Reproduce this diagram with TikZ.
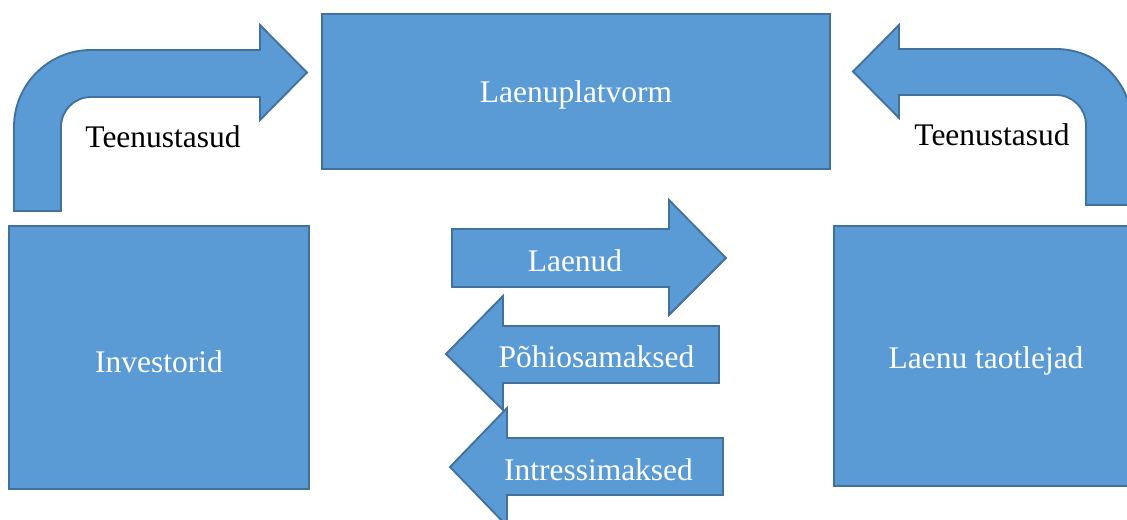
\documentclass[tikz,border=0pt]{standalone}
\usepackage{fontspec}
\setmainfont{Liberation Serif}
\definecolor{boxfill}{HTML}{5B9BD5}
\definecolor{boxline}{HTML}{41719C}
\tikzset{
  shapefill/.style={fill=boxfill, draw=boxline, line width=1.4pt, line join=miter},
  box/.style={shapefill, rectangle, inner sep=0pt},
  wlabel/.style={text=white, font=\fontsize{23.6}{28}\selectfont, inner sep=0pt, anchor=base},
  blabel/.style={text=black, font=\fontsize{23.6}{28}\selectfont, inner sep=0pt, anchor=base}
}
\begin{document}
\begin{tikzpicture}[x=0.75pt,y=-0.75pt]
\useasboundingbox (0,0) rectangle (1127,520);
\clip (0,0) rectangle (1127,520);

% boxes
\node[box, minimum width=381pt, minimum height=116.25pt] (plat) at (576,91.5) {};
\node[box, minimum width=225pt, minimum height=197.25pt] (inv) at (159,357.5) {};
\node[box, minimum width=228pt, minimum height=195pt] (taot) at (986,356) {};

% left bent arrow
\draw[shapefill] (14,211) -- (14,127)
  .. controls (14,84.5) and (48.5,50) .. (91,50)
  -- (260,50) -- (260,25) -- (307,72.5) -- (260,120) -- (260,97) -- (91,97)
  .. controls (74.4,97) and (61,110.4) .. (61,127)
  -- (61,211) -- cycle;

% right bent arrow
\draw[shapefill] (1132,205) -- (1132,125)
  .. controls (1132,83) and (1098,49) .. (1056,49)
  -- (899,49) -- (899,25) -- (853,71.5) -- (899,118) -- (899,95) -- (1056,95)
  .. controls (1072.6,95) and (1086,108.4) .. (1086,125)
  -- (1086,205) -- cycle;

% block arrows
\draw[shapefill] (452,229) -- (669,229) -- (669,200) -- (726,258) -- (669,315) -- (669,287) -- (452,287) -- cycle;
\draw[shapefill] (719,326) -- (503,326) -- (503,296) -- (446,354) -- (503,410) -- (503,383) -- (719,383) -- cycle;
\draw[shapefill] (723,438) -- (507,438) -- (507,408) -- (450,467) -- (507,526) -- (507,495) -- (723,495) -- cycle;

% labels
\node[wlabel] (tplat) at (576,103) {Laenuplatvorm};
\node[wlabel] (tinv) at (159,372) {Investorid};
\node[wlabel] (ttaot) at (986,368) {Laenu taotlejad};
\node[wlabel] (tlaen) at (575,272) {Laenud};
\node[wlabel] (tpohi) at (596.5,367) {Põhiosamaksed};
\node[wlabel] (tintr) at (598.5,480) {Intressimaksed};
\node[blabel] (tfeeL) at (163,148) {Teenustasud};
\node[blabel] (tfeeR) at (992,146) {Teenustasud};
\end{tikzpicture}
\end{document}
